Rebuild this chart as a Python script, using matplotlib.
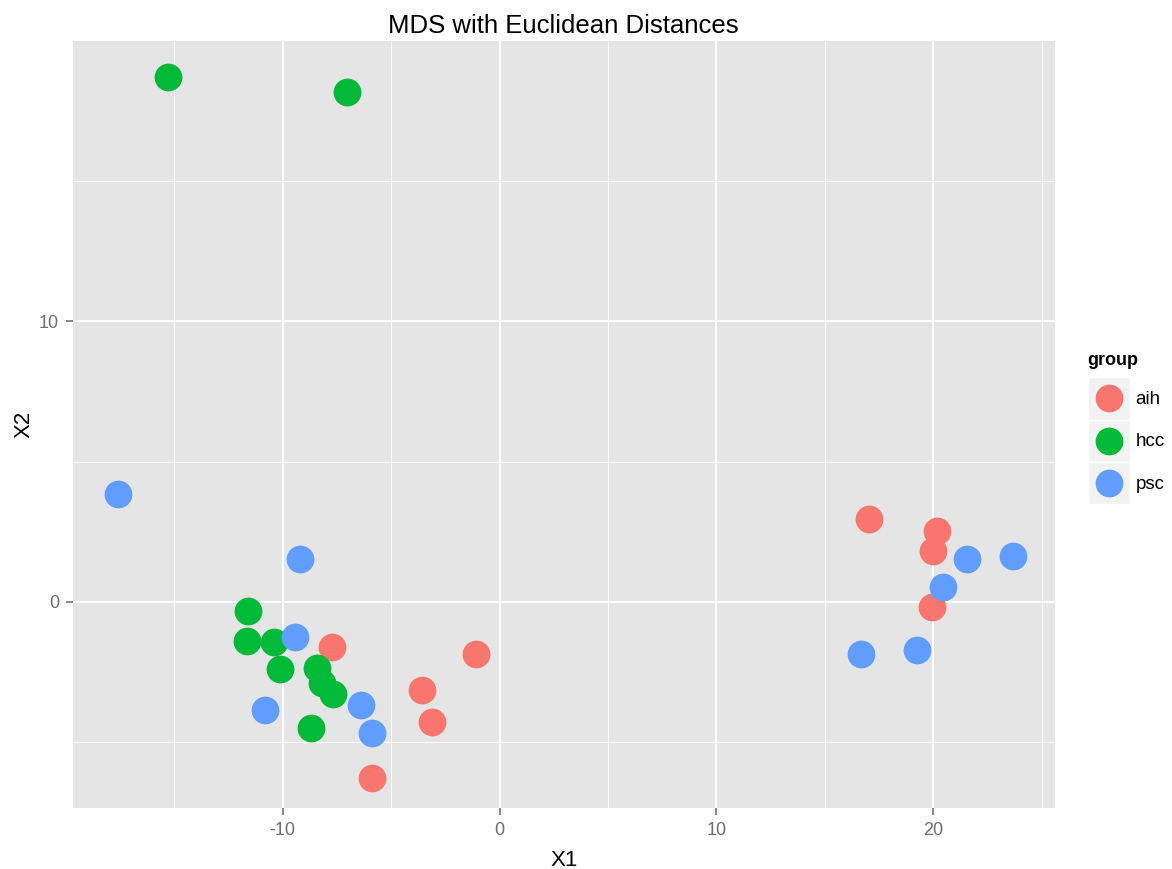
import matplotlib
matplotlib.use('Agg')
import matplotlib.pyplot as plt
from matplotlib.ticker import MultipleLocator
from matplotlib.lines import Line2D
from matplotlib.patches import Rectangle
from matplotlib.legend_handler import HandlerBase

plt.rcParams['font.family'] = ['Liberation Sans', 'DejaVu Sans']
plt.rcParams['axes.unicode_minus'] = False

# MDS coordinates
aih_x = [-7.73, -1.09, -3.57, -3.13, -5.87, 17.03, 20.17, 20.00, 19.92]
aih_y = [-1.59, -1.86, -3.14, -4.27, -6.27, 2.97, 2.52, 1.83, -0.20]

hcc_x = [-15.30, -7.05, -11.59, -11.64, -10.40, -10.12, -8.41, -8.20, -7.67, -8.68]
hcc_y = [18.70, 18.17, -0.34, -1.39, -1.44, -2.40, -2.37, -2.89, -3.29, -4.48]

psc_x = [-17.59, -9.20, -9.43, -10.80, -6.38, -5.88, 21.53, 23.65, 20.43, 16.68, 19.23]
psc_y = [3.84, 1.52, -1.26, -3.86, -3.66, -4.67, 1.52, 1.65, 0.53, -1.84, -1.70]

groups = ['aih', 'hcc', 'psc']
colors = {'aih': '#F8766D', 'hcc': '#00BA38', 'psc': '#619CFF'}
xs = {'aih': aih_x, 'hcc': hcc_x, 'psc': psc_x}
ys = {'aih': aih_y, 'hcc': hcc_y, 'psc': psc_y}


class KeyHandler(HandlerBase):
    # ggplot-style legend key: grey square with the dot in the middle
    def create_artists(self, legend, orig_handle, xdescent, ydescent,
                       width, height, fontsize, trans):
        bg = Rectangle((-xdescent, -ydescent), width, height,
                       facecolor='#F2F2F2', edgecolor='white', linewidth=1,
                       transform=trans)
        dot = Line2D([width / 2 - xdescent], [height / 2 - ydescent],
                     marker='o', linestyle='', markersize=20,
                     markerfacecolor=orig_handle.get_markerfacecolor(),
                     markeredgewidth=0, transform=trans)
        return [bg, dot]


fig = plt.figure(figsize=(11.72, 8.69), dpi=100)
ax = fig.add_axes([0.062, 0.070, 0.838, 0.883])
ax.set_facecolor('#E5E5E5')

for g in groups:
    ax.scatter(xs[g], ys[g], s=400, color=colors[g], linewidths=0, zorder=3)

ax.set_xlim(-19.68, 25.6)
ax.set_ylim(-7.35, 19.99)
ax.xaxis.set_major_locator(MultipleLocator(10))
ax.xaxis.set_minor_locator(MultipleLocator(5))
ax.yaxis.set_major_locator(MultipleLocator(10))
ax.yaxis.set_minor_locator(MultipleLocator(5))
ax.grid(which='major', color='white', linewidth=1.4, zorder=0)
ax.grid(which='minor', color='white', linewidth=0.6, zorder=0)
ax.set_axisbelow(True)
for sp in ax.spines.values():
    sp.set_visible(False)
ax.tick_params(which='major', length=5.2, width=1.3, color='#7F7F7F',
               labelcolor='#6E6E6E', labelsize=13, pad=4.5)
ax.tick_params(which='minor', length=0)

ax.set_xlabel('X1', fontsize=16, labelpad=8)
ax.set_ylabel('X2', fontsize=16, labelpad=3)
ax.set_title('MDS with Euclidean Distances', fontsize=18.5, pad=6)

handles = [Line2D([], [], marker='o', linestyle='',
                  markerfacecolor=colors[g], markeredgewidth=0) for g in groups]
leg = fig.legend(handles, groups, title='group', loc='upper left',
                 bbox_to_anchor=(0.928, 0.595), frameon=False,
                 handler_map={Line2D: KeyHandler()},
                 fontsize=13.5, title_fontproperties={'weight': 'bold', 'size': 13},
                 handlelength=2.25, handleheight=3.1, handletextpad=0.3,
                 labelspacing=0.0, borderpad=0.0, borderaxespad=0.0)
leg._legend_box.align = 'left'
leg._legend_box.sep = 6  # gap between title and keys

fig.savefig('out.png', dpi=100)
